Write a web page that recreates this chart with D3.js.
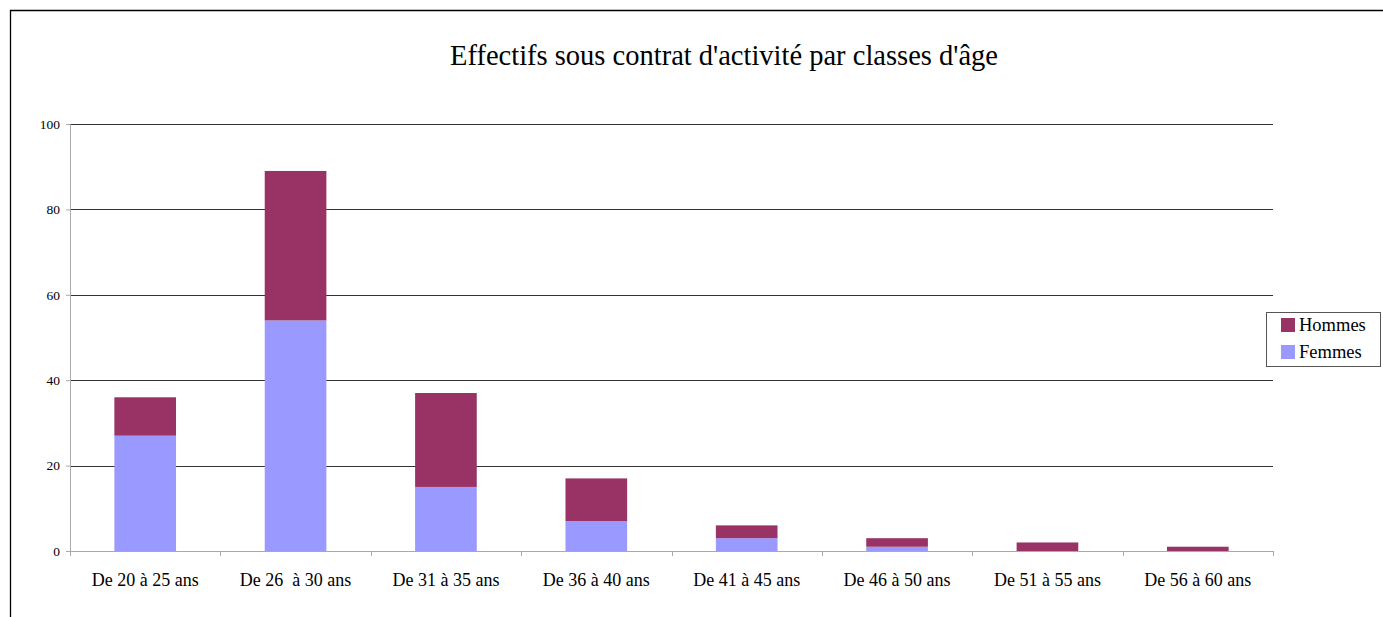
<!DOCTYPE html>
<html>
<head>
<meta charset="utf-8">
<script src="https://cdn.jsdelivr.net/npm/d3@7"></script>
<style>
  body { margin: 0; background: #fff; }
  text { font-family: "Liberation Serif", "Times New Roman", serif; fill: #000; white-space: pre; }
</style>
</head>
<body>
<div id="chart"></div>
<script>
// data
var categories = ["De 20 à 25 ans", "De 26  à 30 ans", "De 31 à 35 ans", "De 36 à 40 ans",
                  "De 41 à 45 ans", "De 46 à 50 ans", "De 51 à 55 ans", "De 56 à 60 ans"];
var femmes = [27, 54, 15, 7, 3, 1, 0, 0];
var hommes = [9, 35, 22, 10, 3, 2, 2, 1];
var yTicks = [0, 20, 40, 60, 80, 100];
var seriesNames = ["Femmes", "Hommes"];
var colors = {"Femmes": "#9999ff", "Hommes": "#993366"};

var W = 1383, H = 617;
var margin = {left: 70, top: 124, right: 110, bottom: 66};
var w = W - margin.left - margin.right;
var h = H - margin.top - margin.bottom;

var svg = d3.select("#chart").append("svg")
    .attr("width", W)
    .attr("height", H);

// outer frame
svg.append("path")
    .attr("d", "M10.5," + H + "V10.5H" + W)
    .attr("fill", "none")
    .attr("stroke", "#000")
    .attr("stroke-width", 1.3);

svg.append("text")
    .attr("x", 724)
    .attr("y", 65)
    .attr("text-anchor", "middle")
    .style("font-size", "28.5px")
    .text("Effectifs sous contrat d'activité par classes d'âge");

var chart = svg.append("g")
    .attr("transform", "translate(" + margin.left + "," + margin.top + ")");

var xscale = d3.scaleBand()
    .domain(categories)
    .range([0, w])
    .paddingInner(0.59)
    .paddingOuter(0.295);

var yscale = d3.scaleLinear()
    .domain([0, 100])
    .range([h, 0]);

// gridlines
chart.append("g")
    .selectAll("line")
    .data(yTicks.slice(1))
    .enter()
    .append("line")
    .attr("x1", 0)
    .attr("x2", w)
    .attr("y1", d => Math.round(yscale(d)) + 0.5)
    .attr("y2", d => Math.round(yscale(d)) + 0.5)
    .attr("stroke", "#333")
    .attr("stroke-width", 1);

// stacked bars
var rows = categories.map((c, i) => ({key: c, Femmes: femmes[i], Hommes: hommes[i]}));
var stack = d3.stack().keys(seriesNames)(rows);

chart.selectAll("g.series")
    .data(stack)
    .enter()
    .append("g")
    .attr("class", "series")
    .attr("fill", d => colors[d.key])
    .selectAll("rect")
    .data(d => d.filter(s => s[1] > s[0]))
    .enter()
    .append("rect")
    .attr("x", d => xscale(d.data.key))
    .attr("width", xscale.bandwidth())
    .attr("y", d => yscale(d[1]))
    .attr("height", d => yscale(d[0]) - yscale(d[1]));

// y axis
var yAxis = chart.append("g")
    .call(d3.axisLeft(yscale).tickValues(yTicks).tickSize(4).tickPadding(6));
yAxis.selectAll("path, line").attr("stroke", "#aaa");
yAxis.selectAll("text").style("font-family", "Liberation Serif, serif").style("font-size", "13.5px");

// x axis with ticks on category boundaries
var xAxis = chart.append("g")
    .attr("transform", "translate(0," + h + ")");
xAxis.append("line")
    .attr("x1", 0).attr("x2", w)
    .attr("y1", 0.5).attr("y2", 0.5)
    .attr("stroke", "#aaa");
xAxis.selectAll("line.tick")
    .data(d3.range(categories.length + 1))
    .enter()
    .append("line")
    .attr("class", "tick")
    .attr("x1", i => Math.round(i * w / categories.length) + 0.5)
    .attr("x2", i => Math.round(i * w / categories.length) + 0.5)
    .attr("y1", 0)
    .attr("y2", 5)
    .attr("stroke", "#aaa");
xAxis.selectAll("text")
    .data(categories)
    .enter()
    .append("text")
    .attr("x", d => xscale(d) + xscale.bandwidth() / 2)
    .attr("y", 35)
    .attr("text-anchor", "middle")
    .style("font-size", "18px")
    .text(d => d);

// legend
var legend = svg.append("g")
    .attr("transform", "translate(1266,312)");
legend.append("rect")
    .attr("x", 0.5).attr("y", 0.5)
    .attr("width", 114).attr("height", 54)
    .attr("fill", "#fff")
    .attr("stroke", "#555");
var legendItems = ["Hommes", "Femmes"];
legend.selectAll("g.item")
    .data(legendItems)
    .enter()
    .append("g")
    .attr("class", "item")
    .attr("transform", (d, i) => "translate(15," + (6 + i * 27) + ")")
    .each(function(d) {
        var g = d3.select(this);
        g.append("rect")
            .attr("width", 14).attr("height", 14)
            .attr("fill", colors[d]);
        g.append("text")
            .attr("x", 18)
            .attr("y", 13)
            .style("font-size", "18.5px")
            .text(d);
    });
</script>
</body>
</html>
